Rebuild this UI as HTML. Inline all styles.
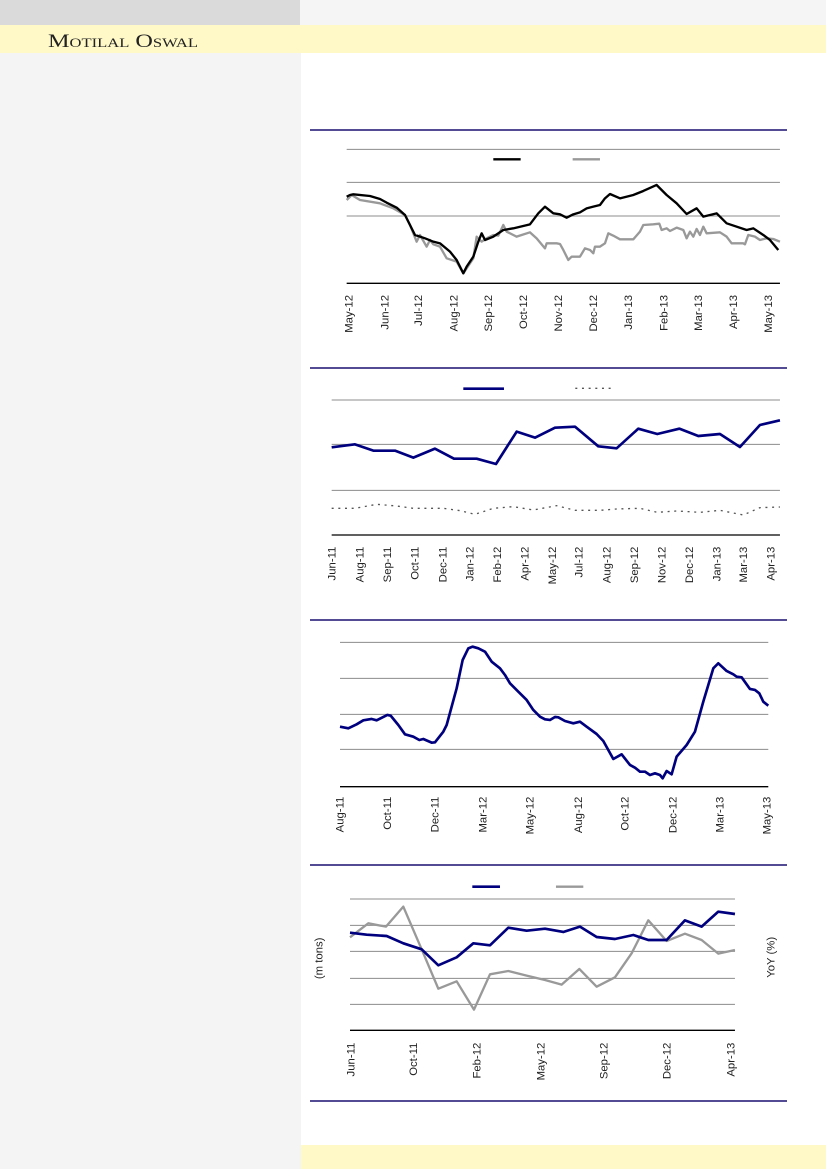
<!DOCTYPE html>
<html><head><meta charset="utf-8"><style>
html,body{margin:0;padding:0;background:#fff;}
svg{display:block;}
text{font-family:"Liberation Sans",sans-serif;}
</style></head><body>
<svg width="826" height="1169" viewBox="0 0 826 1169" xmlns="http://www.w3.org/2000/svg">
<rect x="0" y="0" width="826" height="1169" fill="#fff"/>
<rect x="0" y="0" width="300" height="25" fill="#dadada"/>
<rect x="300" y="0" width="526" height="25" fill="#f5f5f5"/>
<rect x="0" y="25" width="826" height="28" fill="#fff9c8"/>
<rect x="0" y="53" width="301" height="1116" fill="#f4f4f4"/>
<rect x="301" y="1145" width="525" height="24" fill="#fff9c8"/>
<text x="48" y="47" font-size="19" style="font-family:'Liberation Serif',serif;font-variant:small-caps" fill="#222" textLength="150" lengthAdjust="spacingAndGlyphs">Motilal Oswal</text>

<g stroke="#1a1070" stroke-width="1.5">
<line x1="310" y1="130" x2="787" y2="130"/>
<line x1="310" y1="368" x2="787" y2="368"/>
<line x1="310" y1="620" x2="787" y2="620"/>
<line x1="310" y1="865" x2="787" y2="865"/>
<line x1="310" y1="1101" x2="787" y2="1101"/>
</g>

<g transform="translate(300,125) scale(0.3333)">
<g stroke="#8c8c8c" stroke-width="3"><line x1="140" y1="73" x2="1440" y2="73"/><line x1="140" y1="172" x2="1440" y2="172"/><line x1="140" y1="273" x2="1440" y2="273"/></g>
<line x1="140" y1="475" x2="1440" y2="475" stroke="#000" stroke-width="4"/>
<line x1="580" y1="103" x2="662" y2="103" stroke="#000" stroke-width="7"/>
<line x1="818" y1="103" x2="900" y2="103" stroke="#999" stroke-width="7"/>
<polyline fill="none" stroke="#999" stroke-width="7" stroke-linejoin="round" points="140,225 155,210 180,225 240,235 280,250 315,270 330,300 350,350 360,330 380,365 390,345 400,358 420,365 440,400 470,410 490,445 500,430 520,400 530,335 545,350 560,340 580,330 595,332 610,300 620,320 640,330 650,335 665,330 690,322 710,340 735,370 740,355 770,355 780,357 790,375 805,405 815,395 840,395 855,370 870,375 880,385 885,365 900,365 915,355 925,325 940,332 960,343 1000,343 1020,320 1030,300 1060,298 1078,296 1085,315 1100,310 1110,318 1130,308 1150,315 1160,340 1170,320 1180,335 1190,312 1200,330 1210,305 1220,325 1260,322 1280,335 1295,355 1330,355 1335,358 1345,330 1365,335 1380,345 1400,340 1420,342 1440,350"/>
<polyline fill="none" stroke="#000" stroke-width="7" stroke-linejoin="round" points="140,215 150,210 160,208 210,213 240,222 260,233 290,248 315,270 330,300 345,330 360,335 375,340 400,350 420,355 450,380 470,405 490,445 500,425 520,395 535,350 545,325 555,345 580,335 610,315 640,310 690,298 715,265 735,245 760,265 780,268 800,278 820,268 840,262 860,250 880,245 900,240 915,220 930,207 960,220 1000,210 1030,198 1070,180 1100,210 1130,235 1160,267 1190,250 1210,275 1250,265 1280,295 1340,315 1360,310 1390,330 1410,345 1435,375"/>
<g font-size="34" fill="#222" text-anchor="end">
<text transform="translate(158,510) rotate(-90)">May-12</text>
<text transform="translate(266,510) rotate(-90)">Jun-12</text>
<text transform="translate(366,510) rotate(-90)">Jul-12</text>
<text transform="translate(473,510) rotate(-90)">Aug-12</text>
<text transform="translate(576,510) rotate(-90)">Sep-12</text>
<text transform="translate(681,510) rotate(-90)">Oct-12</text>
<text transform="translate(786,510) rotate(-90)">Nov-12</text>
<text transform="translate(891,510) rotate(-90)">Dec-12</text>
<text transform="translate(996,510) rotate(-90)">Jan-13</text>
<text transform="translate(1103,510) rotate(-90)">Feb-13</text>
<text transform="translate(1206,510) rotate(-90)">Mar-13</text>
<text transform="translate(1311,510) rotate(-90)">Apr-13</text>
<text transform="translate(1416,510) rotate(-90)">May-13</text>
</g>
</g>

<g transform="translate(300,365) scale(0.3333)">
<g stroke="#8c8c8c" stroke-width="3"><line x1="95" y1="105" x2="1440" y2="105"/><line x1="95" y1="238" x2="1440" y2="238"/><line x1="95" y1="376" x2="1440" y2="376"/></g>
<line x1="95" y1="510" x2="1440" y2="510" stroke="#000" stroke-width="4"/>
<line x1="490" y1="71" x2="612" y2="71" stroke="#00007f" stroke-width="8"/>
<line x1="826" y1="70" x2="946" y2="70" stroke="#555" stroke-width="4" stroke-dasharray="6,14"/>
<polyline fill="none" stroke="#555" stroke-width="4" stroke-dasharray="6,14" points="95,430 165,430 230,418 290,423 340,430 430,430 480,437 525,448 580,430 640,425 700,435 770,422 825,436 900,436 950,432 1020,430 1072,442 1130,438 1200,442 1260,436 1330,450 1380,428 1440,426"/>
<polyline fill="none" stroke="#00007f" stroke-width="8" stroke-linejoin="round" points="95,247 165,238 220,257 285,257 340,278 405,251 462,281 530,281 588,297 650,200 705,218 765,188 825,185 895,244 950,250 1015,191 1072,207 1138,191 1195,213 1260,207 1320,246 1380,180 1440,166"/>
<g font-size="34" fill="#222" text-anchor="end">
<text transform="translate(106,545) rotate(-90)">Jun-11</text>
<text transform="translate(191,545) rotate(-90)">Aug-11</text>
<text transform="translate(273,545) rotate(-90)">Sep-11</text>
<text transform="translate(356,545) rotate(-90)">Oct-11</text>
<text transform="translate(439,545) rotate(-90)">Dec-11</text>
<text transform="translate(521,545) rotate(-90)">Jan-12</text>
<text transform="translate(603,545) rotate(-90)">Feb-12</text>
<text transform="translate(686,545) rotate(-90)">Apr-12</text>
<text transform="translate(768,545) rotate(-90)">May-12</text>
<text transform="translate(848,545) rotate(-90)">Jul-12</text>
<text transform="translate(931,545) rotate(-90)">Aug-12</text>
<text transform="translate(1014,545) rotate(-90)">Sep-12</text>
<text transform="translate(1096,545) rotate(-90)">Nov-12</text>
<text transform="translate(1179,545) rotate(-90)">Dec-12</text>
<text transform="translate(1261,545) rotate(-90)">Jan-13</text>
<text transform="translate(1341,545) rotate(-90)">Mar-13</text>
<text transform="translate(1423,545) rotate(-90)">Apr-13</text>
</g>
</g>

<g transform="translate(300,615) scale(0.3333)">
<g stroke="#8c8c8c" stroke-width="3"><line x1="120" y1="82" x2="1405" y2="82"/><line x1="120" y1="190" x2="1405" y2="190"/><line x1="120" y1="298" x2="1405" y2="298"/><line x1="120" y1="403" x2="1405" y2="403"/></g>
<line x1="120" y1="515" x2="1405" y2="515" stroke="#000" stroke-width="4"/>
<polyline fill="none" stroke="#00007f" stroke-width="8" stroke-linejoin="round" points="120,335 145,340 170,328 190,316 215,312 230,316 262,300 272,302 295,330 315,358 340,365 358,375 370,372 395,383 405,382 430,350 440,330 470,220 488,135 505,100 518,95 535,100 555,110 575,140 600,160 615,180 630,205 655,230 680,255 700,285 720,305 735,313 750,315 765,306 775,307 795,318 820,325 840,320 860,335 890,357 910,378 925,405 940,432 965,418 990,450 1005,458 1020,470 1035,470 1050,480 1065,475 1080,480 1088,490 1100,468 1115,478 1130,425 1160,390 1185,350 1210,260 1240,160 1255,145 1280,168 1300,178 1310,185 1325,187 1350,222 1365,225 1378,235 1390,260 1405,272"/>
<g font-size="34" fill="#222" text-anchor="end">
<text transform="translate(131,545) rotate(-90)">Aug-11</text>
<text transform="translate(273,545) rotate(-90)">Oct-11</text>
<text transform="translate(416,545) rotate(-90)">Dec-11</text>
<text transform="translate(559,545) rotate(-90)">Mar-12</text>
<text transform="translate(701,545) rotate(-90)">May-12</text>
<text transform="translate(846,545) rotate(-90)">Aug-12</text>
<text transform="translate(986,545) rotate(-90)">Oct-12</text>
<text transform="translate(1129,545) rotate(-90)">Dec-12</text>
<text transform="translate(1271,545) rotate(-90)">Mar-13</text>
<text transform="translate(1411,545) rotate(-90)">May-13</text>
</g>
</g>

<g transform="translate(300,860) scale(0.3333)">
<g stroke="#8c8c8c" stroke-width="3"><line x1="150" y1="117" x2="1305" y2="117"/><line x1="150" y1="196" x2="1305" y2="196"/><line x1="150" y1="274" x2="1305" y2="274"/><line x1="150" y1="355" x2="1305" y2="355"/><line x1="150" y1="433" x2="1305" y2="433"/></g>
<line x1="150" y1="511" x2="1305" y2="511" stroke="#000" stroke-width="4"/>
<line x1="517" y1="80" x2="600" y2="80" stroke="#00007f" stroke-width="8"/>
<line x1="768" y1="80" x2="850" y2="80" stroke="#999" stroke-width="7"/>
<polyline fill="none" stroke="#999" stroke-width="7" stroke-linejoin="round" points="150,232 205,190 258,200 310,140 365,268 415,386 470,364 522,449 570,343 625,333 680,347 735,360 785,374 838,327 890,380 945,352 995,280 1045,181 1100,243 1155,221 1205,240 1255,281 1305,270"/>
<polyline fill="none" stroke="#00007f" stroke-width="8" stroke-linejoin="round" points="150,218 200,224 260,228 310,250 365,268 415,316 470,292 520,250 570,256 625,203 680,212 735,206 790,216 840,200 890,231 945,237 1000,225 1045,240 1100,240 1155,181 1205,200 1255,155 1305,162"/>
<g font-size="34" fill="#222" text-anchor="middle">
<text transform="translate(67,295) rotate(-90)">(m tons)</text>
<text transform="translate(1423,292) rotate(-90)">YoY (%)</text>
</g>
<g font-size="34" fill="#222" text-anchor="end">
<text transform="translate(163,548) rotate(-90)">Jun-11</text>
<text transform="translate(351,548) rotate(-90)">Oct-11</text>
<text transform="translate(541,548) rotate(-90)">Feb-12</text>
<text transform="translate(733,548) rotate(-90)">May-12</text>
<text transform="translate(923,548) rotate(-90)">Sep-12</text>
<text transform="translate(1111,548) rotate(-90)">Dec-12</text>
<text transform="translate(1304,548) rotate(-90)">Apr-13</text>
</g>
</g>
</svg>
</body></html>
